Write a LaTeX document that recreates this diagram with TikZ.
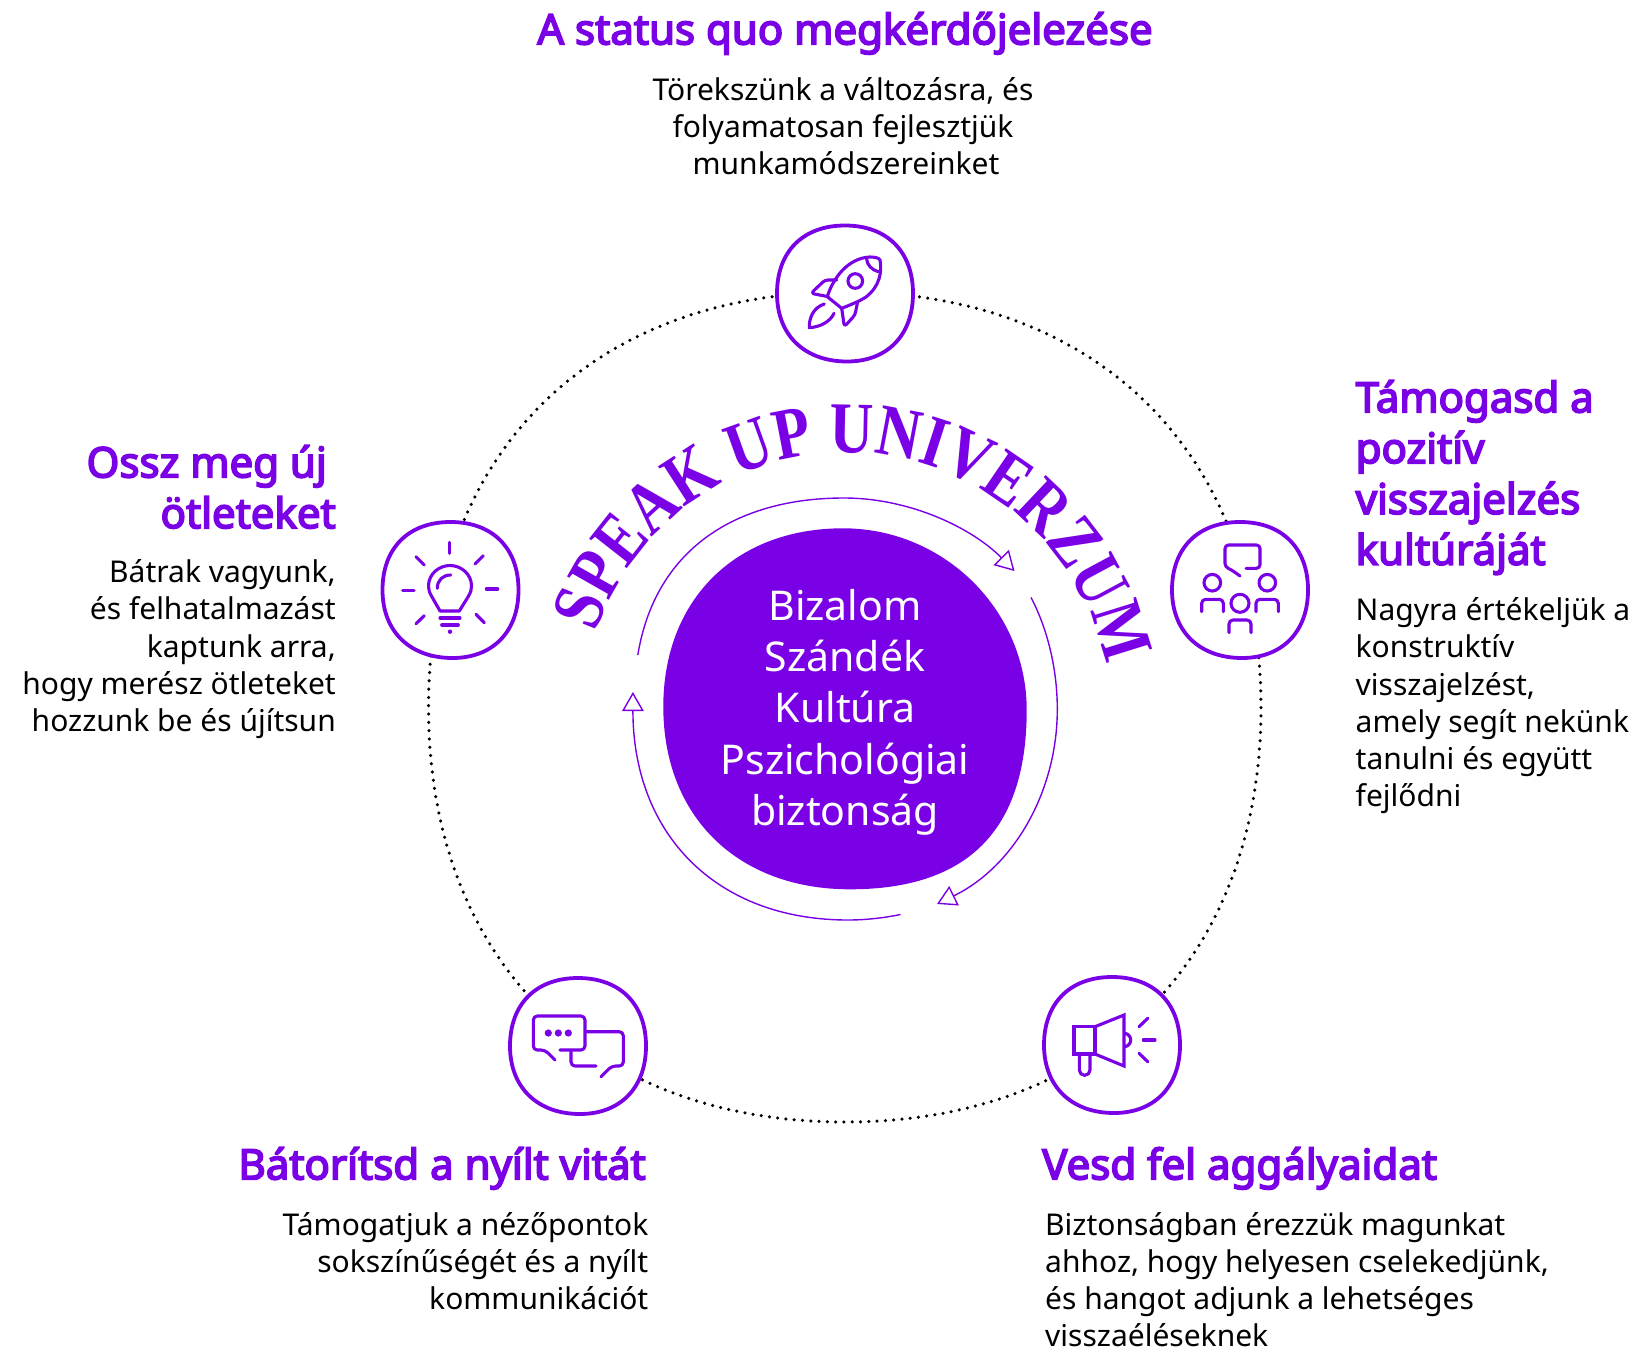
\documentclass[tikz,border=0pt]{standalone}
\usepackage{fontspec}
\setmainfont{Noto Sans}
\newfontfamily\headfont[FakeBold=4]{Noto Sans}
\newfontfamily\titlefont[FakeStretch=0.83]{Liberation Serif Bold}
\usetikzlibrary{arrows.meta,decorations.text}
\definecolor{brand}{HTML}{7A00E6}
\tikzset{
  dots/.style={line width=3.5pt,line cap=round,dash pattern=on 0pt off 8.3pt,black},
  flow/.style={brand,line width=1.4pt,-{Triangle[open,length=19pt,width=21.5pt,fill=white]}},
  icon/.style={brand,line width=3.1pt,line cap=round,line join=round},
  blobshape/.pic={
    \draw[brand,line width=3.8pt,fill=white]
      (-68,0) .. controls (-68,-42) and (-42,-68) .. (0,-68)
      .. controls (42,-68) and (68,-42) .. (68,0)
      .. controls (68,42) and (42,68) .. (2,68)
      .. controls (-40,68) and (-68,42) .. (-68,0) -- cycle;
  },
  head/.style={inner sep=0pt,text=brand,font=\headfont\fontsize{42}{50.8}\selectfont},
  body/.style={inner sep=0pt,text=black,font=\fontsize{30}{37.2}\selectfont},
}
\begin{document}
\begin{tikzpicture}[x=1pt,y=-1pt]
\useasboundingbox[fill=white] (0,0) rectangle (1637,1351);
% dotted ring
\coordinate (rt) at (845,292);
\coordinate (rr) at (1261,707);
\coordinate (rb) at (845,1122);
\coordinate (rl) at (428.5,707);
\draw[dots] (rt) .. controls (1099,292) and (1261,454) .. (rr)
  .. controls (1261,960) and (1099,1122) .. (rb)
  .. controls (591,1122) and (428.5,960) .. (rl)
  .. controls (428.5,454) and (591,292) .. (rt);
% centre blob
\fill[brand] (663.3,706.7) .. controls (663.3,600) and (735,528.3) .. (843,528.3)
  .. controls (944,528.3) and (1026.7,610) .. (1026.7,710)
  .. controls (1026.7,830) and (968,889.3) .. (850,889.3)
  .. controls (738,889.3) and (663.3,817) .. (663.3,706.7) -- cycle;
\node[inner sep=0pt,text=white,align=center,anchor=north,font=\fontsize{41}{51.3}\selectfont] (core) at (845,589)
  {Bizalom\\Szándék\\Kultúra\\Pszichológiai\\biztonság};
% circular arrows
\coordinate (f1s) at (637.8,655);
\coordinate (f1e) at (1014.5,571);
\coordinate (f2s) at (1031,597.4);
\coordinate (f2e) at (937,904);
\coordinate (f3s) at (900.6,914.5);
\coordinate (f3e) at (632.9,692);
\draw[flow] (f1s) .. controls (655,550) and (735,498) .. (844,498)
  .. controls (910,498) and (972,528) .. (f1e);
\draw[flow] (f2s) .. controls (1048,630) and (1057.3,670) .. (1057.3,709.3)
  .. controls (1057.3,790) and (1015,866) .. (f2e);
\draw[flow] (f3s) .. controls (883,918) and (866,920) .. (848,920)
  .. controls (715,920) and (632.9,833) .. (f3e);
% curved title
\coordinate (ts) at (596.5,631.8);
\path[decorate,decoration={text along path,text align=center,
   text={|\color{brand}\fontsize{73}{73}\titlefont|SPEAK UP UNIVERZUM}}]
   (ts) arc[start angle=161.3,end angle=11.4,radius=264pt];
% icon frames
\pic (rocket) at (845,293.5) {blobshape};
\pic (people) at (1240,590) {blobshape};
\pic (bulb) at (450.5,590) {blobshape};
\pic (chat) at (578,1046) {blobshape};
\pic (mega) at (1112,1045) {blobshape};
% rocket
\draw[icon] (827.3,296.7) .. controls (833,278) and (848,258) .. (870,257)
  .. controls (875,257) and (879,258) .. (880,260)
  .. controls (882,272) and (880,286) .. (866,297)
  .. controls (860,301) and (850,305) .. (841.7,308.3) -- cycle;
\draw[icon] (866.7,259.3) .. controls (867,265) and (872,270) .. (878.3,271.7);
\draw[icon] (855.3,281) circle[radius=7.3pt];
\draw[icon,rounded corners=3pt] (836.7,280) -- (825,280) -- (811,293.3) -- (828.3,296.7);
\draw[icon,rounded corners=3pt] (857.3,303.3) -- (855,315) -- (844.3,326.7) -- (841.7,308.3);
\draw[icon] (824.3,304) .. controls (812,308) and (809,320) .. (809.3,327.7)
  .. controls (820,327) and (830,322) .. (834,313.3);
% people
\draw[icon,rounded corners=3.5pt] (1246,568.3) -- (1260,568.3) -- (1260,545) -- (1225,545) -- (1225,567) -- (1231,569.5) -- (1240,576);
\draw[icon] (1212.3,582.7) circle[radius=8.3pt];
\draw[icon] (1267.3,582.7) circle[radius=8.3pt];
\draw[icon] (1240,603.3) circle[radius=9pt];
\draw[icon,rounded corners=4pt] (1201.7,611.7) -- (1201.7,599.3) -- (1223.3,599.3) -- (1223.3,611.7);
\draw[icon,rounded corners=4pt] (1256,611.7) -- (1256,599.3) -- (1278.3,599.3) -- (1278.3,611.7);
\draw[icon,rounded corners=4pt] (1229,632.7) -- (1229,620) -- (1251,620) -- (1251,632.7);
% bulb
\draw[icon] (449.3,542.3) -- (449.3,553.3);
\draw[icon] (402.7,590.3) -- (414,590.3);
\draw[icon] (486.3,589) -- (497.7,589);
\draw[icon] (416,556.7) -- (424.3,565);
\draw[icon] (483.3,555.7) -- (475,564);
\draw[icon] (424.3,615.7) -- (416,623.7);
\draw[icon] (476,614.3) -- (484.3,622.7);
\draw[icon] (440,611) -- (432,597) .. controls (429,592) and (428.5,589) .. (428.5,586)
  .. controls (428.5,574) and (439,565.5) .. (450,565.5)
  .. controls (461,565.5) and (471.5,574) .. (471.5,586)
  .. controls (471.5,589) and (471,592) .. (468,597) -- (459.3,611) -- cycle;
\draw[icon] (437.3,588.3) .. controls (437.3,580) and (443,575) .. (450.7,575);
\draw[icon] (440,618) -- (460,618);
\draw[icon] (441.7,625) -- (458.3,625);
\fill[brand] (450,631.7) circle[radius=2.2pt];
% chat
\draw[icon,rounded corners=4pt] (560,1050) -- (585,1050) -- (585,1016) -- (533.3,1016) -- (533.3,1050) -- (545,1050) -- (555,1060);
\fill[brand] (548.3,1033) circle[radius=3.6pt] (558.3,1033) circle[radius=3.6pt] (568.3,1033) circle[radius=3.6pt];
\draw[icon,rounded corners=4pt] (586.7,1031.7) -- (623.3,1031.7) -- (623.3,1066) -- (611.7,1066) -- (601,1076.7);
\draw[icon,rounded corners=4pt] (571,1051.7) -- (571,1066) -- (596,1066);
% megaphone
\draw[icon,line cap=butt,line join=miter] (1074,1026.7) rectangle (1095,1054);
\draw[icon,line join=miter] (1095,1026.7) -- (1124,1015) -- (1124,1066) -- (1095,1054);
\draw[icon] (1079.3,1055) -- (1079.3,1070) arc[start angle=180,end angle=360,radius=5.35pt] -- (1090,1055);
\draw[icon,line cap=butt] (1124,1033.3) arc[start angle=90,end angle=-90,radius=6.7pt];
\draw[icon] (1139,1026.7) -- (1147.7,1018.3);
\draw[icon] (1143.3,1040) -- (1155,1040);
\draw[icon] (1139,1053.3) -- (1147.7,1061.7);
% texts
\node[head,anchor=north] (h1) at (845,12) {A status quo megkérdőjelezése};
\node[body,anchor=north,align=center] (b1) at (843,77) {Törekszünk a változásra, és\\folyamatosan fejlesztjük\\\hspace*{6pt}munkamódszereinket};
\node[head,anchor=north west,align=left] (h2) at (1355.5,380) {Támogasd a\\pozitív\\visszajelzés\\kultúráját};
\node[body,anchor=north west,align=left] (b2) at (1355.5,597.5) {Nagyra értékeljük a\\konstruktív\\visszajelzést,\\amely segít nekünk\\tanulni és együtt\\fejlődni};
\node[head,anchor=north east,align=right] (h3) at (336,445) {Ossz meg új\hspace*{9pt}\\ötleteket};
\node[body,anchor=north east,align=right] (b3) at (336,559.5) {Bátrak vagyunk,\\és felhatalmazást\\kaptunk arra,\\hogy merész ötleteket\\hozzunk be és újítsun};
\node[head,anchor=north east] (h4) at (646,1147) {Bátorítsd a nyílt vitát};
\node[body,anchor=north east,align=right] (b4) at (648.5,1212) {Támogatjuk a nézőpontok\\sokszínűségét és a nyílt\\kommunikációt};
\node[head,anchor=north west] (h5) at (1042,1147) {Vesd fel aggályaidat};
\node[body,anchor=north west,align=left] (b5) at (1045,1212) {Biztonságban érezzük magunkat\\ahhoz, hogy helyesen cselekedjünk,\\és hangot adjunk a lehetséges\\visszaéléseknek};
\end{tikzpicture}
\end{document}
